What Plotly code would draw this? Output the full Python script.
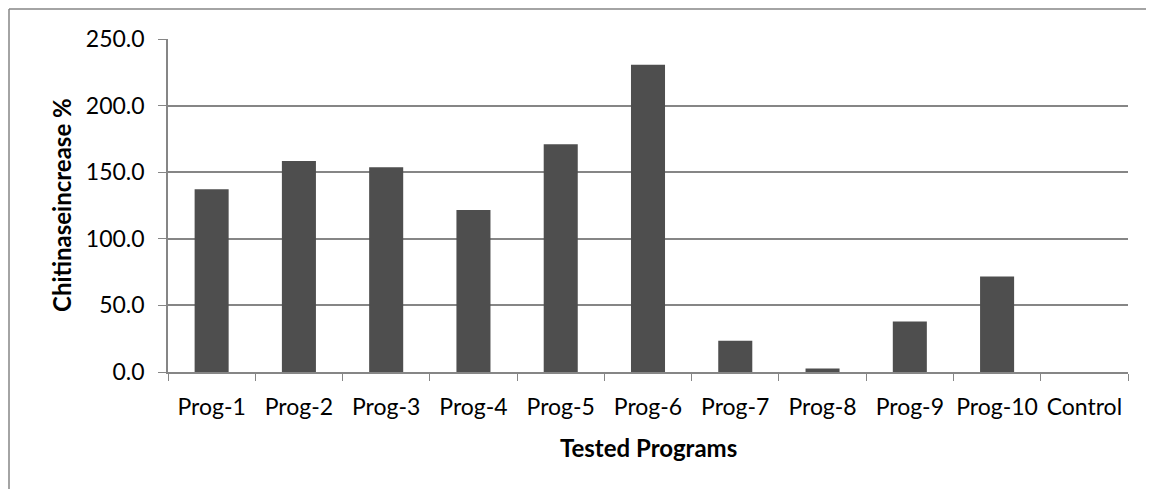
import plotly.graph_objects as go

categories = ["Prog-1", "Prog-2", "Prog-3", "Prog-4", "Prog-5", "Prog-6",
              "Prog-7", "Prog-8", "Prog-9", "Prog-10", "Control"]
values = [137.2, 158.5, 153.7, 121.7, 171.0, 230.7, 23.5, 2.7, 38.0, 71.7, 0.0]
y_ticks = [0, 50, 100, 150, 200, 250]

# page body has an 8px margin; figure is offset by it
OFF = 8
W, H = 1154 - OFF, 489 - OFF
L, R, T, B = 168 - OFF, 26, 39 - OFF, 117
PW, PH = W - L - R, H - T - B

fig = go.Figure()
fig.add_trace(go.Bar(
    x=categories, y=values,
    marker=dict(color="#4e4e4e", line=dict(width=0)),
    width=0.39,
))

font_family = "Lato, 'Open Sans', sans-serif"
fig.update_layout(
    width=W, height=H,
    margin=dict(l=L, r=R, t=T, b=B, autoexpand=False),
    paper_bgcolor="white", plot_bgcolor="white",
    showlegend=False,
    font=dict(family=font_family, color="#000000", size=23),
    xaxis=dict(
        type="category",
        showgrid=False,
        showline=True, linecolor="#868686", linewidth=1.5,
        ticks="outside", ticklen=7, tickcolor="#868686", tickwidth=1,
        tickson="boundaries",
        tickangle=0,
        automargin=False,
        tickfont=dict(size=23),
        ticklabelstandoff=14,
        range=[-0.5, 10.5],
    ),
    yaxis=dict(
        range=[0, 250],
        tickvals=y_ticks,
        tickformat=".1f",
        automargin=False,
        showgrid=True, gridcolor="#868686", gridwidth=1.5,
        showline=True, linecolor="#868686", linewidth=1.5,
        ticks="outside", ticklen=8, tickcolor="#868686", tickwidth=1,
        tickfont=dict(size=23),
        ticklabelstandoff=9,
        zeroline=False,
    ),
    annotations=[
        dict(text="<b>Tested Programs</b>", xref="paper", yref="paper",
             x=0.5, y=(PH - (447 - OFF - T)) / PH, xanchor="center", yanchor="middle",
             showarrow=False, font=dict(size=24)),
        dict(text="<b>Chitinaseincrease %</b>", xref="paper", yref="paper",
             x=(61 - OFF - L) / PW, y=(PH - (205 - OFF - T)) / PH,
             xanchor="center", yanchor="middle", textangle=-90,
             showarrow=False, font=dict(size=24)),
    ],
    shapes=[
        dict(type="line", xref="paper", yref="paper",
             x0=(1 - L) / PW, x1=(1 - L) / PW,
             y0=-(B + 20) / PH, y1=(PH + T - 1) / PH,
             line=dict(color="#868686", width=1.5), layer="below"),
        dict(type="line", xref="paper", yref="paper",
             x0=(1 - L) / PW, x1=(W + 40 - L) / PW,
             y0=(PH + T - 1) / PH, y1=(PH + T - 1) / PH,
             line=dict(color="#868686", width=1.5), layer="below"),
    ],
)

fig.write_html("out.html")
